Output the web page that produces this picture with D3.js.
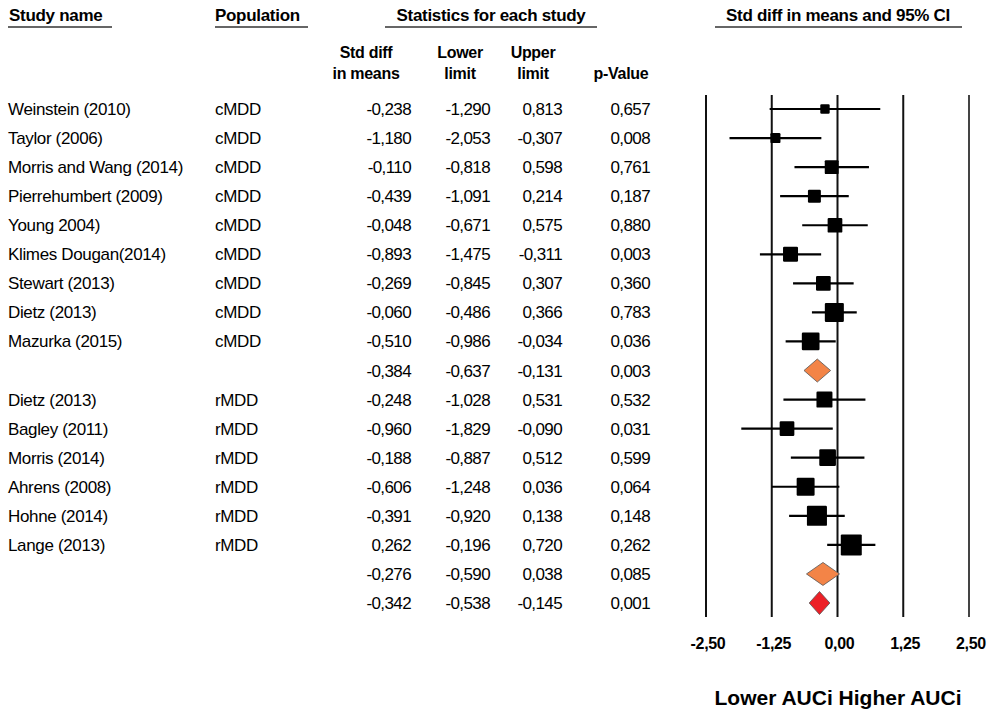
<!DOCTYPE html>
<html>
<head>
<meta charset="utf-8">
<script src="https://cdn.jsdelivr.net/npm/d3@7"></script>
<style>
  html, body { margin: 0; padding: 0; background: #fff; }
  svg { display: block; }
  text { font-family: "Liberation Sans", Arial, sans-serif; fill: #000; }
</style>
</head>
<body>
<svg id="chart" width="993" height="713"></svg>
<script>
// ---------------- data ----------------
const studyNames = [
  "Weinstein (2010)", "Taylor (2006)", "Morris and Wang (2014)", "Pierrehumbert (2009)",
  "Young 2004)", "Klimes Dougan(2014)", "Stewart (2013)", "Dietz (2013)", "Mazurka (2015)",
  "",
  "Dietz (2013)", "Bagley (2011)", "Morris (2014)", "Ahrens (2008)", "Hohne (2014)", "Lange (2013)",
  "", ""
];
const populations = [
  "cMDD", "cMDD", "cMDD", "cMDD", "cMDD", "cMDD", "cMDD", "cMDD", "cMDD",
  "",
  "rMDD", "rMDD", "rMDD", "rMDD", "rMDD", "rMDD",
  "", ""
];
const stdDiff = [-0.238, -1.180, -0.110, -0.439, -0.048, -0.893, -0.269, -0.060, -0.510,
                 -0.384,
                 -0.248, -0.960, -0.188, -0.606, -0.391, 0.262,
                 -0.276, -0.342];
const lowerLimit = [-1.290, -2.053, -0.818, -1.091, -0.671, -1.475, -0.845, -0.486, -0.986,
                    -0.637,
                    -1.028, -1.829, -0.887, -1.248, -0.920, -0.196,
                    -0.590, -0.538];
const upperLimit = [0.813, -0.307, 0.598, 0.214, 0.575, -0.311, 0.307, 0.366, -0.034,
                    -0.131,
                    0.531, -0.090, 0.512, 0.036, 0.138, 0.720,
                    0.038, -0.145];
const pValues = ["0,657", "0,008", "0,761", "0,187", "0,880", "0,003", "0,360", "0,783", "0,036",
                 "0,003",
                 "0,532", "0,031", "0,599", "0,064", "0,148", "0,262",
                 "0,085", "0,001"];
// estimated relative weights (marker area), read from square sizes
const relWeight = [20, 23, 44, 38, 49, 51, 49, 82, 71,
                   0,
                   58, 49, 63, 73, 91, 100,
                   0, 0];
// row type: study square or summary diamond
const rowType = ["study","study","study","study","study","study","study","study","study",
                 "summary",
                 "study","study","study","study","study","study",
                 "summary","overall"];
const tickValues = [-2.5, -1.25, 0, 1.25, 2.5];
const tickLabels = ["-2,50", "-1,25", "0,00", "1,25", "2,50"];

// ---------------- helpers ----------------
const fmt = v => d3.format(".3f")(v).replace(".", ",").replace("−", "-");
const svg = d3.select("#chart");

const x = d3.scaleLinear().domain([-2.5, 2.5]).range([706, 969]);
const y = d3.scalePoint().domain(d3.range(stdDiff.length)).range([109, 603]);
const side = d3.scaleSqrt().domain([0, 100]).range([0, 21]);

// ---------------- headers ----------------
const hdr = svg.append("g").attr("font-weight", "bold").attr("font-size", 17);
function header(txt, tx, anchor, x1, x2) {
  hdr.append("text").attr("x", tx).attr("y", 21).attr("text-anchor", anchor)
     .attr("letter-spacing", -0.3).text(txt);
  svg.append("line").attr("x1", x1).attr("x2", x2).attr("y1", 27).attr("y2", 27)
     .attr("stroke", "#333").attr("stroke-width", 1.3);
}
header("Study name", 9, "start", 8, 112);
header("Population", 215, "start", 215, 308);
header("Statistics for each study", 491, "middle", 385, 597);
header("Std diff in means and 95% CI", 838, "middle", 715, 962);

const colRight = [411, 490, 562, 650];
const colCenter = [366, 460, 533, 621];
const sub = svg.append("g").attr("font-weight", "bold").attr("font-size", 16)
  .attr("text-anchor", "middle").attr("letter-spacing", -0.3);
[["Std diff", "in means"], ["Lower", "limit"], ["Upper", "limit"], ["", "p-Value"]]
  .forEach((lines, i) => {
    sub.append("text").attr("x", colCenter[i]).attr("y", 58).text(lines[0]);
    sub.append("text").attr("x", colCenter[i]).attr("y", 79).text(lines[1]);
  });

// ---------------- table rows ----------------
const rows = svg.append("g").attr("font-size", 17).attr("letter-spacing", -0.35);
const idx = d3.range(stdDiff.length);
rows.selectAll(".name").data(idx).join("text")
  .attr("x", 8).attr("y", i => y(i) + 6).text(i => studyNames[i]);
rows.selectAll(".pop").data(idx).join("text")
  .attr("x", 215).attr("y", i => y(i) + 6).text(i => populations[i]);
const cols = [i => fmt(stdDiff[i]), i => fmt(lowerLimit[i]), i => fmt(upperLimit[i]), i => pValues[i]];
cols.forEach((f, c) => {
  rows.selectAll(".c" + c).data(idx).join("text")
    .attr("x", colRight[c]).attr("y", i => y(i) + 6).attr("text-anchor", "end")
    .attr("letter-spacing", -0.6).text(f);
});

// ---------------- forest plot ----------------
const plot = svg.append("g");
plot.selectAll(".vline").data(tickValues).join("line")
  .attr("x1", d => x(d)).attr("x2", d => x(d))
  .attr("y1", 95).attr("y2", 617)
  .attr("stroke", (d, i) => (i === 4 ? "#444" : "#111"))
  .attr("stroke-width", 2);

const studies = idx.filter(i => rowType[i] === "study");
plot.selectAll(".ci").data(studies).join("line")
  .attr("x1", i => x(Math.max(-2.5, lowerLimit[i])))
  .attr("x2", i => x(Math.min(2.5, upperLimit[i])))
  .attr("y1", i => y(i)).attr("y2", i => y(i))
  .attr("stroke", "#000").attr("stroke-width", 2.2);
plot.selectAll(".sq").data(studies).join("rect")
  .attr("x", i => x(stdDiff[i]) - side(relWeight[i]) / 2)
  .attr("y", i => y(i) - side(relWeight[i]) / 2)
  .attr("width", i => side(relWeight[i]))
  .attr("height", i => side(relWeight[i]))
  .attr("rx", 1.2)
  .attr("fill", "#000");

const summaries = idx.filter(i => rowType[i] !== "study");
const dh = 11.5;
plot.selectAll(".dia").data(summaries).join("path")
  .attr("d", i => {
    const yc = y(i);
    return `M${x(lowerLimit[i])},${yc}L${x(stdDiff[i])},${yc - dh}L${x(upperLimit[i])},${yc}L${x(stdDiff[i])},${yc + dh}Z`;
  })
  .attr("fill", i => rowType[i] === "overall" ? "#EC2027" : "#F38447")
  .attr("stroke", "#555").attr("stroke-width", 0.8);

// ---------------- axis labels ----------------
svg.append("g").attr("font-weight", "bold").attr("font-size", 16).attr("text-anchor", "middle")
  .attr("letter-spacing", -0.3)
  .selectAll("text").data(tickValues).join("text")
  .attr("x", d => x(d) + 2).attr("y", 649)
  .text((d, i) => tickLabels[i]);

svg.append("text").attr("x", 838).attr("y", 705).attr("text-anchor", "middle")
  .attr("font-weight", "bold").attr("font-size", 21)
  .text("Lower AUCi Higher AUCi");
</script>
</body>
</html>
